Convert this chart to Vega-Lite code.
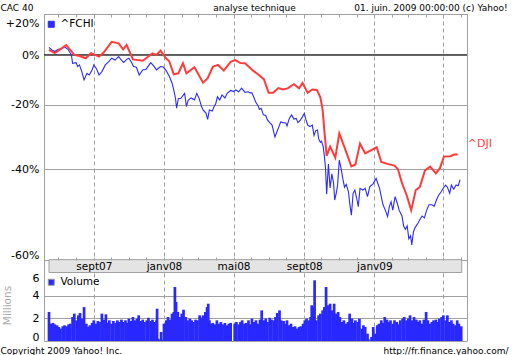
{
"$schema": "https://vega.github.io/schema/vega-lite/v6.json",
"width": 423, "height": 327,
"autosize": {"type": "none"},
"padding": {"left": 44, "top": 14, "right": 45, "bottom": 14},
"background": "white",
"config": {
  "font": "DejaVu Sans",
  "view": {"stroke": "#a0a0a0", "strokeWidth": 1},
  "axis": {"labelFont": "DejaVu Sans", "labelColor": "#000000", "labelFontSize": 11, "domain": false, "ticks": false, "grid": false, "titleFont": "DejaVu Sans", "titleFontWeight": "normal", "titleColor": "#000000", "titleFontSize": 9, "labelFlush": false, "labelOverlap": false},
  "legend": {"labelFont": "DejaVu Sans", "labelFontSize": 10.5, "labelColor": "#000000", "padding": 0}
},
"datasets": {
"fchi": [
{"d":"2007-06-15","v":1.034},{"d":"2007-06-20","v":1.022},{"d":"2007-06-25","v":1.015},{"d":"2007-07-01","v":1.025},{"d":"2007-07-07","v":1.027},{"d":"2007-07-12","v":1.037},{"d":"2007-07-18","v":1.025},{"d":"2007-07-24","v":1.000},{"d":"2007-07-26","v":0.963},{"d":"2007-08-01","v":0.966},{"d":"2007-08-04","v":0.949},{"d":"2007-08-07","v":0.956},{"d":"2007-08-11","v":0.928},{"d":"2007-08-15","v":0.894},{"d":"2007-08-20","v":0.921},{"d":"2007-08-24","v":0.914},{"d":"2007-08-29","v":0.935},{"d":"2007-09-01","v":0.956},{"d":"2007-09-06","v":0.938},{"d":"2007-09-10","v":0.914},{"d":"2007-09-15","v":0.928},{"d":"2007-09-21","v":0.956},{"d":"2007-09-27","v":0.970},{"d":"2007-10-02","v":0.985},{"d":"2007-10-08","v":0.977},{"d":"2007-10-14","v":0.992},{"d":"2007-10-19","v":0.977},{"d":"2007-10-23","v":0.967},{"d":"2007-10-28","v":0.980},{"d":"2007-11-01","v":0.985},{"d":"2007-11-05","v":0.970},{"d":"2007-11-09","v":0.949},{"d":"2007-11-14","v":0.946},{"d":"2007-11-19","v":0.914},{"d":"2007-11-25","v":0.935},{"d":"2007-12-01","v":0.938},{"d":"2007-12-05","v":0.952},{"d":"2007-12-09","v":0.966},{"d":"2007-12-14","v":0.952},{"d":"2007-12-19","v":0.935},{"d":"2007-12-23","v":0.943},{"d":"2007-12-26","v":0.949},{"d":"2007-12-31","v":0.947},
{"d":"2008-01-05","v":0.931},{"d":"2008-01-10","v":0.910},{"d":"2008-01-15","v":0.882},{"d":"2008-01-18","v":0.855},{"d":"2008-01-21","v":0.824},{"d":"2008-01-23","v":0.788},{"d":"2008-01-26","v":0.823},{"d":"2008-01-30","v":0.823},{"d":"2008-02-06","v":0.842},{"d":"2008-02-09","v":0.794},{"d":"2008-02-12","v":0.816},{"d":"2008-02-17","v":0.825},{"d":"2008-02-23","v":0.818},{"d":"2008-02-27","v":0.842},{"d":"2008-03-02","v":0.824},{"d":"2008-03-06","v":0.796},{"d":"2008-03-09","v":0.782},{"d":"2008-03-14","v":0.771},{"d":"2008-03-17","v":0.750},{"d":"2008-03-20","v":0.782},{"d":"2008-03-25","v":0.778},{"d":"2008-03-28","v":0.793},{"d":"2008-03-31","v":0.804},{"d":"2008-04-03","v":0.829},{"d":"2008-04-07","v":0.818},{"d":"2008-04-11","v":0.836},{"d":"2008-04-16","v":0.825},{"d":"2008-04-20","v":0.842},{"d":"2008-04-26","v":0.853},{"d":"2008-05-01","v":0.849},{"d":"2008-05-05","v":0.855},{"d":"2008-05-10","v":0.848},{"d":"2008-05-15","v":0.862},{"d":"2008-05-21","v":0.846},{"d":"2008-05-26","v":0.848},{"d":"2008-05-30","v":0.844},{"d":"2008-06-02","v":0.844},{"d":"2008-06-06","v":0.824},{"d":"2008-06-09","v":0.808},{"d":"2008-06-13","v":0.796},{"d":"2008-06-15","v":0.784},{"d":"2008-06-18","v":0.788},{"d":"2008-06-22","v":0.765},{"d":"2008-06-26","v":0.763},{"d":"2008-06-29","v":0.748},{"d":"2008-07-03","v":0.739},{"d":"2008-07-07","v":0.731},{"d":"2008-07-12","v":0.693},{"d":"2008-07-16","v":0.712},{"d":"2008-07-19","v":0.726},{"d":"2008-07-22","v":0.741},{"d":"2008-07-26","v":0.739},{"d":"2008-07-31","v":0.738},{"d":"2008-08-02","v":0.728},{"d":"2008-08-06","v":0.753},{"d":"2008-08-10","v":0.765},{"d":"2008-08-14","v":0.751},{"d":"2008-08-18","v":0.753},{"d":"2008-08-21","v":0.739},{"d":"2008-08-25","v":0.746},{"d":"2008-08-29","v":0.759},{"d":"2008-09-01","v":0.770},{"d":"2008-09-04","v":0.748},{"d":"2008-09-07","v":0.731},{"d":"2008-09-11","v":0.726},{"d":"2008-09-15","v":0.731},{"d":"2008-09-18","v":0.698},{"d":"2008-09-21","v":0.713},{"d":"2008-09-24","v":0.715},{"d":"2008-09-26","v":0.688},{"d":"2008-09-29","v":0.677},{"d":"2008-10-01","v":0.680},{"d":"2008-10-04","v":0.664},{"d":"2008-10-06","v":0.637},{"d":"2008-10-08","v":0.603},{"d":"2008-10-10","v":0.537},{"d":"2008-10-13","v":0.614},{"d":"2008-10-16","v":0.552},{"d":"2008-10-19","v":0.588},{"d":"2008-10-22","v":0.564},{"d":"2008-10-24","v":0.523},{"d":"2008-10-27","v":0.542},{"d":"2008-10-29","v":0.559},{"d":"2008-11-01","v":0.625},{"d":"2008-11-04","v":0.603},{"d":"2008-11-07","v":0.576},{"d":"2008-11-10","v":0.554},{"d":"2008-11-13","v":0.561},{"d":"2008-11-17","v":0.542},{"d":"2008-11-19","v":0.516},{"d":"2008-11-22","v":0.489},{"d":"2008-11-25","v":0.539},{"d":"2008-11-28","v":0.547},{"d":"2008-12-01","v":0.529},{"d":"2008-12-04","v":0.508},{"d":"2008-12-07","v":0.551},{"d":"2008-12-12","v":0.547},{"d":"2008-12-16","v":0.551},{"d":"2008-12-20","v":0.531},{"d":"2008-12-24","v":0.555},{"d":"2008-12-30","v":0.563},
{"d":"2009-01-04","v":0.576},{"d":"2009-01-07","v":0.563},{"d":"2009-01-10","v":0.551},{"d":"2009-01-13","v":0.531},{"d":"2009-01-16","v":0.512},{"d":"2009-01-20","v":0.500},{"d":"2009-01-24","v":0.486},{"d":"2009-01-27","v":0.508},{"d":"2009-01-30","v":0.519},{"d":"2009-02-02","v":0.500},{"d":"2009-02-06","v":0.531},{"d":"2009-02-10","v":0.515},{"d":"2009-02-13","v":0.500},{"d":"2009-02-18","v":0.487},{"d":"2009-02-21","v":0.465},{"d":"2009-02-24","v":0.459},{"d":"2009-02-27","v":0.466},{"d":"2009-03-02","v":0.440},{"d":"2009-03-05","v":0.446},{"d":"2009-03-07","v":0.428},{"d":"2009-03-10","v":0.454},{"d":"2009-03-13","v":0.463},{"d":"2009-03-18","v":0.472},{"d":"2009-03-22","v":0.481},{"d":"2009-03-25","v":0.487},{"d":"2009-03-29","v":0.483},{"d":"2009-04-02","v":0.500},{"d":"2009-04-06","v":0.512},{"d":"2009-04-11","v":0.512},{"d":"2009-04-15","v":0.509},{"d":"2009-04-19","v":0.523},{"d":"2009-04-23","v":0.535},{"d":"2009-04-27","v":0.542},{"d":"2009-05-01","v":0.552},{"d":"2009-05-05","v":0.559},{"d":"2009-05-08","v":0.554},{"d":"2009-05-12","v":0.539},{"d":"2009-05-15","v":0.559},{"d":"2009-05-19","v":0.549},{"d":"2009-05-23","v":0.559},{"d":"2009-05-27","v":0.558},{"d":"2009-05-30","v":0.573}
],
"dji": [
{"d":"2007-06-15","v":1.022},{"d":"2007-06-25","v":1.008},{"d":"2007-07-05","v":1.026},{"d":"2007-07-15","v":1.045},{"d":"2007-07-29","v":1.000},{"d":"2007-08-07","v":0.995},{"d":"2007-08-18","v":0.985},{"d":"2007-08-27","v":1.007},{"d":"2007-09-01","v":1.002},{"d":"2007-09-10","v":0.992},{"d":"2007-09-18","v":1.010},{"d":"2007-10-02","v":1.060},{"d":"2007-10-14","v":1.053},{"d":"2007-10-22","v":1.025},{"d":"2007-10-28","v":1.045},{"d":"2007-11-08","v":0.980},{"d":"2007-11-25","v":0.974},{"d":"2007-12-06","v":0.995},{"d":"2007-12-12","v":1.007},{"d":"2007-12-19","v":1.000},{"d":"2007-12-26","v":1.019},
{"d":"2008-01-04","v":0.986},{"d":"2008-01-10","v":0.973},{"d":"2008-01-18","v":0.917},{"d":"2008-01-26","v":0.921},{"d":"2008-02-03","v":0.963},{"d":"2008-02-09","v":0.921},{"d":"2008-02-23","v":0.946},{"d":"2008-03-09","v":0.883},{"d":"2008-03-17","v":0.901},{"d":"2008-03-26","v":0.948},{"d":"2008-04-04","v":0.956},{"d":"2008-04-14","v":0.932},{"d":"2008-04-26","v":0.969},{"d":"2008-05-04","v":0.977},{"d":"2008-05-13","v":0.964},{"d":"2008-05-21","v":0.963},{"d":"2008-06-04","v":0.932},{"d":"2008-06-14","v":0.914},{"d":"2008-06-23","v":0.896},{"d":"2008-07-01","v":0.844},{"d":"2008-07-09","v":0.844},{"d":"2008-07-18","v":0.862},{"d":"2008-07-26","v":0.857},{"d":"2008-08-03","v":0.861},{"d":"2008-08-14","v":0.877},{"d":"2008-08-23","v":0.861},{"d":"2008-08-29","v":0.882},{"d":"2008-09-07","v":0.844},{"d":"2008-09-15","v":0.857},{"d":"2008-09-23","v":0.855},{"d":"2008-09-29","v":0.827},{"d":"2008-10-03","v":0.782},{"d":"2008-10-06","v":0.712},{"d":"2008-10-10","v":0.637},{"d":"2008-10-16","v":0.664},{"d":"2008-10-25","v":0.632},{"d":"2008-11-01","v":0.704},{"d":"2008-11-11","v":0.657},{"d":"2008-11-22","v":0.608},{"d":"2008-11-29","v":0.613},{"d":"2008-12-07","v":0.673},{"d":"2008-12-16","v":0.644},{"d":"2008-12-25","v":0.652},
{"d":"2009-01-05","v":0.662},{"d":"2009-01-13","v":0.620},{"d":"2009-01-25","v":0.614},{"d":"2009-02-05","v":0.610},{"d":"2009-02-11","v":0.600},{"d":"2009-02-18","v":0.564},{"d":"2009-02-26","v":0.535},{"d":"2009-03-06","v":0.500},{"d":"2009-03-14","v":0.547},{"d":"2009-03-21","v":0.554},{"d":"2009-03-30","v":0.597},{"d":"2009-04-08","v":0.607},{"d":"2009-04-18","v":0.589},{"d":"2009-04-25","v":0.603},{"d":"2009-05-02","v":0.635},{"d":"2009-05-13","v":0.636},{"d":"2009-05-20","v":0.641},{"d":"2009-05-26","v":0.641}
],
"vol": [
{"d":"2007-06-15","v":2.57},{"d":"2007-06-18","v":1.53},{"d":"2007-06-22","v":1.6},{"d":"2007-06-25","v":1.47},{"d":"2007-06-29","v":1.39},{"d":"2007-07-02","v":1.24},{"d":"2007-07-05","v":1.1},{"d":"2007-07-09","v":1.3},{"d":"2007-07-12","v":1.39},{"d":"2007-07-16","v":1.3},{"d":"2007-07-19","v":1.47},{"d":"2007-07-22","v":1.53},{"d":"2007-07-26","v":2.12},{"d":"2007-07-29","v":2.42},{"d":"2007-08-02","v":1.83},{"d":"2007-08-05","v":2.27},{"d":"2007-08-08","v":2.48},{"d":"2007-08-12","v":1.98},{"d":"2007-08-15","v":3.0},{"d":"2007-08-19","v":1.53},{"d":"2007-08-22","v":1.24},{"d":"2007-08-25","v":1.39},{"d":"2007-08-29","v":1.6},{"d":"2007-09-01","v":1.83},{"d":"2007-09-05","v":1.53},{"d":"2007-09-08","v":1.77},{"d":"2007-09-11","v":1.68},{"d":"2007-09-15","v":2.42},{"d":"2007-09-18","v":1.89},{"d":"2007-09-22","v":2.36},{"d":"2007-09-25","v":1.6},{"d":"2007-09-28","v":1.83},{"d":"2007-10-02","v":1.53},{"d":"2007-10-05","v":1.77},{"d":"2007-10-09","v":1.6},{"d":"2007-10-12","v":1.83},{"d":"2007-10-15","v":1.68},{"d":"2007-10-19","v":1.89},{"d":"2007-10-22","v":1.68},{"d":"2007-10-26","v":1.83},{"d":"2007-10-29","v":1.6},{"d":"2007-11-01","v":1.98},{"d":"2007-11-05","v":1.77},{"d":"2007-11-08","v":2.12},{"d":"2007-11-12","v":1.83},{"d":"2007-11-15","v":1.98},{"d":"2007-11-18","v":2.27},{"d":"2007-11-22","v":1.77},{"d":"2007-11-25","v":1.89},{"d":"2007-11-28","v":1.68},{"d":"2007-12-02","v":1.83},{"d":"2007-12-05","v":2.06},{"d":"2007-12-09","v":1.77},{"d":"2007-12-12","v":1.89},{"d":"2007-12-15","v":1.68},{"d":"2007-12-19","v":1.83},{"d":"2007-12-20","v":2.86},{"d":"2007-12-22","v":0.2},{"d":"2007-12-26","v":0.1},{"d":"2007-12-27","v":0.8},{"d":"2007-12-29","v":0.1},
{"d":"2008-01-01","v":1.53},{"d":"2008-01-05","v":1.83},{"d":"2008-01-08","v":2.12},{"d":"2008-01-12","v":1.89},{"d":"2008-01-15","v":2.42},{"d":"2008-01-18","v":2.57},{"d":"2008-01-20","v":4.78},{"d":"2008-01-22","v":3.45},{"d":"2008-01-25","v":2.57},{"d":"2008-01-29","v":2.12},{"d":"2008-02-01","v":2.42},{"d":"2008-02-04","v":2.77},{"d":"2008-02-08","v":2.12},{"d":"2008-02-11","v":1.83},{"d":"2008-02-15","v":1.98},{"d":"2008-02-18","v":1.83},{"d":"2008-02-21","v":1.68},{"d":"2008-02-25","v":1.89},{"d":"2008-02-28","v":1.83},{"d":"2008-03-03","v":2.27},{"d":"2008-03-06","v":2.06},{"d":"2008-03-09","v":2.27},{"d":"2008-03-13","v":2.57},{"d":"2008-03-16","v":3.0},{"d":"2008-03-18","v":3.3},{"d":"2008-03-20","v":1.83},{"d":"2008-03-23","v":1.53},{"d":"2008-03-26","v":1.6},{"d":"2008-03-30","v":1.47},{"d":"2008-04-02","v":1.83},{"d":"2008-04-06","v":1.53},{"d":"2008-04-09","v":1.68},{"d":"2008-04-12","v":1.47},{"d":"2008-04-16","v":1.6},{"d":"2008-04-19","v":1.39},{"d":"2008-04-23","v":1.53},{"d":"2008-04-26","v":1.6},{"d":"2008-05-03","v":1.53},{"d":"2008-05-06","v":1.68},{"d":"2008-05-10","v":1.47},{"d":"2008-05-13","v":1.68},{"d":"2008-05-16","v":1.83},{"d":"2008-05-20","v":1.53},{"d":"2008-05-23","v":1.6},{"d":"2008-05-27","v":1.83},{"d":"2008-05-30","v":1.47},{"d":"2008-06-02","v":1.98},{"d":"2008-06-06","v":1.68},{"d":"2008-06-09","v":1.83},{"d":"2008-06-13","v":1.53},{"d":"2008-06-16","v":1.89},{"d":"2008-06-19","v":2.71},{"d":"2008-06-23","v":1.83},{"d":"2008-06-26","v":1.98},{"d":"2008-06-29","v":1.68},{"d":"2008-07-03","v":2.06},{"d":"2008-07-06","v":1.89},{"d":"2008-07-10","v":1.83},{"d":"2008-07-13","v":2.12},{"d":"2008-07-16","v":2.48},{"d":"2008-07-20","v":2.71},{"d":"2008-07-23","v":1.83},{"d":"2008-07-27","v":1.77},{"d":"2008-07-30","v":1.53},{"d":"2008-08-02","v":1.83},{"d":"2008-08-06","v":1.39},{"d":"2008-08-09","v":1.53},{"d":"2008-08-13","v":1.24},{"d":"2008-08-16","v":1.3},{"d":"2008-08-19","v":1.1},{"d":"2008-08-23","v":1.24},{"d":"2008-08-26","v":1.3},{"d":"2008-08-30","v":1.53},{"d":"2008-09-02","v":1.83},{"d":"2008-09-05","v":1.98},{"d":"2008-09-09","v":1.83},{"d":"2008-09-12","v":2.12},{"d":"2008-09-14","v":3.16},{"d":"2008-09-16","v":3.0},{"d":"2008-09-17","v":2.71},{"d":"2008-09-19","v":5.37},{"d":"2008-09-22","v":1.83},{"d":"2008-09-26","v":2.27},{"d":"2008-09-29","v":2.42},{"d":"2008-10-03","v":2.71},{"d":"2008-10-06","v":3.0},{"d":"2008-10-09","v":4.78},{"d":"2008-10-13","v":3.16},{"d":"2008-10-16","v":3.3},{"d":"2008-10-20","v":2.71},{"d":"2008-10-23","v":3.3},{"d":"2008-10-26","v":2.42},{"d":"2008-10-30","v":2.57},{"d":"2008-11-02","v":2.12},{"d":"2008-11-06","v":1.68},{"d":"2008-11-09","v":1.83},{"d":"2008-11-12","v":1.53},{"d":"2008-11-16","v":1.68},{"d":"2008-11-19","v":2.42},{"d":"2008-11-23","v":1.98},{"d":"2008-11-26","v":1.6},{"d":"2008-11-29","v":1.83},{"d":"2008-12-03","v":1.68},{"d":"2008-12-06","v":1.98},{"d":"2008-12-10","v":1.09},{"d":"2008-12-13","v":1.39},{"d":"2008-12-16","v":1.24},{"d":"2008-12-20","v":0.65},{"d":"2008-12-21","v":0.2},{"d":"2008-12-23","v":0.06},{"d":"2008-12-27","v":0.35},{"d":"2008-12-30","v":1.24},
{"d":"2009-01-02","v":0.65},{"d":"2009-01-06","v":1.39},{"d":"2009-01-09","v":1.53},{"d":"2009-01-13","v":1.83},{"d":"2009-01-16","v":1.6},{"d":"2009-01-19","v":2.12},{"d":"2009-01-23","v":1.89},{"d":"2009-01-26","v":1.68},{"d":"2009-01-29","v":1.83},{"d":"2009-02-02","v":1.53},{"d":"2009-02-05","v":1.83},{"d":"2009-02-09","v":1.68},{"d":"2009-02-12","v":1.47},{"d":"2009-02-15","v":1.83},{"d":"2009-02-19","v":1.98},{"d":"2009-02-22","v":2.12},{"d":"2009-02-26","v":1.83},{"d":"2009-03-01","v":1.98},{"d":"2009-03-04","v":2.27},{"d":"2009-03-08","v":1.83},{"d":"2009-03-11","v":2.12},{"d":"2009-03-15","v":1.89},{"d":"2009-03-18","v":1.68},{"d":"2009-03-21","v":1.83},{"d":"2009-03-25","v":1.53},{"d":"2009-03-28","v":1.89},{"d":"2009-04-01","v":2.57},{"d":"2009-04-04","v":1.83},{"d":"2009-04-07","v":1.53},{"d":"2009-04-11","v":1.68},{"d":"2009-04-14","v":1.83},{"d":"2009-04-18","v":1.89},{"d":"2009-04-21","v":1.68},{"d":"2009-04-24","v":1.98},{"d":"2009-04-28","v":2.12},{"d":"2009-05-01","v":2.27},{"d":"2009-05-05","v":1.83},{"d":"2009-05-08","v":2.27},{"d":"2009-05-11","v":1.68},{"d":"2009-05-15","v":1.83},{"d":"2009-05-18","v":1.53},{"d":"2009-05-22","v":1.39},{"d":"2009-05-25","v":1.83},{"d":"2009-05-28","v":1.53},{"d":"2009-06-01","v":1.3}
],
"band": [{"a":"2007-06-15","b":"2009-06-02","lo":6.06,"hi":7.2}],
"last": [{"d":"2009-05-26","v":0.641,"t":"^DJI"}],
"zero": [{"v":1}]
},
"layer": [
{
  "data": {"name": "vol"},
  "mark": {"type": "bar", "size": 2.7},
  "encoding": {
    "x": {"field": "d", "type": "temporal",
      "scale": {"type": "utc", "nice": false, "domain": [{"year":2007,"month":6,"date":15,"utc":true},{"year":2009,"month":6,"date":2,"hours":10,"utc":true}]},
      "axis": {"orient": "bottom", "labels": false, "ticks": false, "domain": false, "grid": true, "gridColor": "#a0a0a0", "gridDash": [4,3], "gridWidth": 1,
        "values": [{"year":2007,"month":9,"date":1,"utc":true},{"year":2008,"month":1,"date":1,"utc":true},{"year":2008,"month":5,"date":1,"utc":true},{"year":2008,"month":9,"date":1,"utc":true},{"year":2009,"month":1,"date":1,"utc":true},{"year":2009,"month":5,"date":1,"utc":true}],
        "title": "Copyright 2009 Yahoo! Inc.", "titleX": -44, "titleY": 9.5, "titleAlign": "left", "titleBaseline": "middle", "titleAngle": 0}},
    "y": {"field": "v", "type": "quantitative", "scale": {"domain": [0, 28.94], "nice": false, "zero": false},
      "axis": {"orient": "left", "values": [0,2,4,6], "grid": true, "gridColor": "#a0a0a0",
        "gridOpacity": {"condition": {"test": "datum.value == 2 || datum.value == 4", "value": 1}, "value": 0},
        "labelPadding": 5, "labelBaseline": "middle",
        "labelOffset": {"condition": [{"test": "datum.value == 6", "value": 5}, {"test": "datum.value == 0", "value": -4}], "value": 0},
        "title": "Millions", "titleColor": "#aaaaaa", "titleFontSize": 10.5, "titleAngle": -90, "titleX": -37, "titleY": 291, "titleAlign": "center", "titleBaseline": "middle"}},
    "color": {"datum": "Volume", "scale": {"range": ["#2828ff"]},
      "legend": {"orient": "none", "legendX": 2, "legendY": 263, "title": null, "symbolType": "square", "symbolSize": 36, "symbolFillColor": "#2828ff", "symbolStrokeColor": "#999999", "symbolStrokeWidth": 1, "labelFontSize": 10.5, "labelOffset": 4}}
  }
},
{
  "data": {"name": "band"},
  "mark": {"type": "rect", "fill": "#e4e4e4", "stroke": "#a0a0a0", "strokeWidth": 1},
  "encoding": {
    "x": {"field": "a", "type": "temporal",
      "axis": {"orient": "bottom", "labels": false, "ticks": false, "domain": false, "grid": false,
        "title": "http://fr.finance.yahoo.com/", "titleX": 464, "titleY": 9.5, "titleAlign": "right", "titleBaseline": "middle", "titleAngle": 0}},
    "x2": {"field": "b"},
    "y": {"field": "lo", "type": "quantitative", "scale": {"domain": [0, 28.94], "nice": false, "zero": false}, "axis": null},
    "y2": {"field": "hi"}
  }
},
{
  "data": {"name": "zero"},
  "mark": {"type": "rule", "color": "#000000", "strokeWidth": 1},
  "encoding": {
    "y": {"field": "v", "type": "quantitative", "scale": {"type": "log", "domain": [0.2788, 1.2], "nice": false, "zero": false}, "axis": null}
  }
},
{
  "data": {"name": "fchi"},
  "mark": {"type": "line", "strokeWidth": 1.1, "interpolate": "linear"},
  "encoding": {
    "x": {"field": "d", "type": "temporal",
      "axis": {"orient": "bottom", "offset": -81, "zindex": 1, "ticks": true, "tickSize": -3, "tickColor": "#a0a0a0", "domain": false, "grid": false,
        "values": [{"year":2007,"month":7,"date":1,"utc":true},{"year":2007,"month":8,"date":1,"utc":true},{"year":2007,"month":9,"date":1,"utc":true},{"year":2007,"month":10,"date":1,"utc":true},{"year":2007,"month":11,"date":1,"utc":true},{"year":2007,"month":12,"date":1,"utc":true},{"year":2008,"month":1,"date":1,"utc":true},{"year":2008,"month":2,"date":1,"utc":true},{"year":2008,"month":3,"date":1,"utc":true},{"year":2008,"month":4,"date":1,"utc":true},{"year":2008,"month":5,"date":1,"utc":true},{"year":2008,"month":6,"date":1,"utc":true},{"year":2008,"month":7,"date":1,"utc":true},{"year":2008,"month":8,"date":1,"utc":true},{"year":2008,"month":9,"date":1,"utc":true},{"year":2008,"month":10,"date":1,"utc":true},{"year":2008,"month":11,"date":1,"utc":true},{"year":2008,"month":12,"date":1,"utc":true},{"year":2009,"month":1,"date":1,"utc":true},{"year":2009,"month":2,"date":1,"utc":true},{"year":2009,"month":3,"date":1,"utc":true},{"year":2009,"month":4,"date":1,"utc":true},{"year":2009,"month":5,"date":1,"utc":true},{"year":2009,"month":6,"date":1,"utc":true}],
        "labelExpr": "utcmonth(datum.value) == 8 ? 'sept' + utcFormat(datum.value, '%y') : utcmonth(datum.value) == 0 ? 'janv' + utcFormat(datum.value, '%y') : (utcmonth(datum.value) == 4 && utcyear(datum.value) == 2008) ? 'mai08' : ''",
        "labelFontSize": 10.5, "labelPadding": 4, "labelBaseline": "top", "labelAlign": "center", "title": null}},
    "y": {"field": "v", "type": "quantitative", "scale": {"type": "log", "domain": [0.2788, 1.2], "nice": false, "zero": false},
      "axis": {"orient": "left", "values": [0.4, 0.6, 0.8, 1, 1.2], "grid": true, "gridColor": "#a0a0a0",
        "labelExpr": "datum.value > 1.1 ? '+20%' : datum.value > 0.9 ? '0%' : datum.value > 0.7 ? '-20%' : datum.value > 0.5 ? '-40%' : '-60%'",
        "labelPadding": 5, "labelBaseline": "middle",
        "labelOffset": {"condition": [{"test": "datum.value > 1.1", "value": 9}, {"test": "datum.value < 0.5", "value": -5}, {"test": "datum.value > 0.9", "value": 1}], "value": 0},
        "title": "CAC 40", "titleX": -44, "titleY": -7, "titleAngle": 0, "titleAlign": "left", "titleBaseline": "middle"}},
    "color": {"datum": "^FCHI", "scale": {"range": ["#2b2bff"]},
      "legend": {"orient": "none", "legendX": 2, "legendY": 5, "title": null, "symbolType": "square", "symbolSize": 36, "symbolFillColor": "#2b2bff", "symbolStrokeColor": "#999999", "symbolStrokeWidth": 1, "labelFontSize": 10.5, "labelOffset": 4}}
  }
},
{
  "data": {"name": "dji"},
  "mark": {"type": "line", "strokeWidth": 2, "color": "#ff3c3c", "interpolate": "linear"},
  "encoding": {
    "x": {"field": "d", "type": "temporal",
      "axis": {"orient": "top", "labels": false, "domain": false, "grid": false, "ticks": true, "tickSize": -3, "tickColor": "#a0a0a0",
        "values": [{"year":2007,"month":7,"date":1,"utc":true},{"year":2007,"month":8,"date":1,"utc":true},{"year":2007,"month":9,"date":1,"utc":true},{"year":2007,"month":10,"date":1,"utc":true},{"year":2007,"month":11,"date":1,"utc":true},{"year":2007,"month":12,"date":1,"utc":true},{"year":2008,"month":1,"date":1,"utc":true},{"year":2008,"month":2,"date":1,"utc":true},{"year":2008,"month":3,"date":1,"utc":true},{"year":2008,"month":4,"date":1,"utc":true},{"year":2008,"month":5,"date":1,"utc":true},{"year":2008,"month":6,"date":1,"utc":true},{"year":2008,"month":7,"date":1,"utc":true},{"year":2008,"month":8,"date":1,"utc":true},{"year":2008,"month":9,"date":1,"utc":true},{"year":2008,"month":10,"date":1,"utc":true},{"year":2008,"month":11,"date":1,"utc":true},{"year":2008,"month":12,"date":1,"utc":true},{"year":2009,"month":1,"date":1,"utc":true},{"year":2009,"month":2,"date":1,"utc":true},{"year":2009,"month":3,"date":1,"utc":true},{"year":2009,"month":4,"date":1,"utc":true},{"year":2009,"month":5,"date":1,"utc":true},{"year":2009,"month":6,"date":1,"utc":true}],
        "title": "analyse technique", "titleX": 210, "titleY": -7, "titleAlign": "center", "titleBaseline": "middle", "titleAngle": 0}},
    "y": {"field": "v", "type": "quantitative", "scale": {"type": "log", "domain": [0.2788, 1.2], "nice": false, "zero": false}, "axis": null}
  }
},
{
  "data": {"name": "last"},
  "mark": {"type": "text", "align": "left", "baseline": "middle", "dx": 10, "dy": -10, "fontSize": 11, "font": "DejaVu Sans", "color": "#ff3c3c"},
  "encoding": {
    "x": {"field": "d", "type": "temporal",
      "axis": {"orient": "top", "labels": false, "ticks": false, "domain": false, "grid": false,
        "title": "01. juin. 2009 00:00:00 (c) Yahoo!", "titleX": 463, "titleY": -7, "titleAlign": "right", "titleBaseline": "middle", "titleAngle": 0}},
    "y": {"field": "v", "type": "quantitative", "scale": {"type": "log", "domain": [0.2788, 1.2], "nice": false, "zero": false}, "axis": null},
    "text": {"field": "t"}
  }
}
],
"resolve": {"scale": {"y": "independent", "color": "independent"}, "axis": {"x": "independent", "y": "independent"}}
}
